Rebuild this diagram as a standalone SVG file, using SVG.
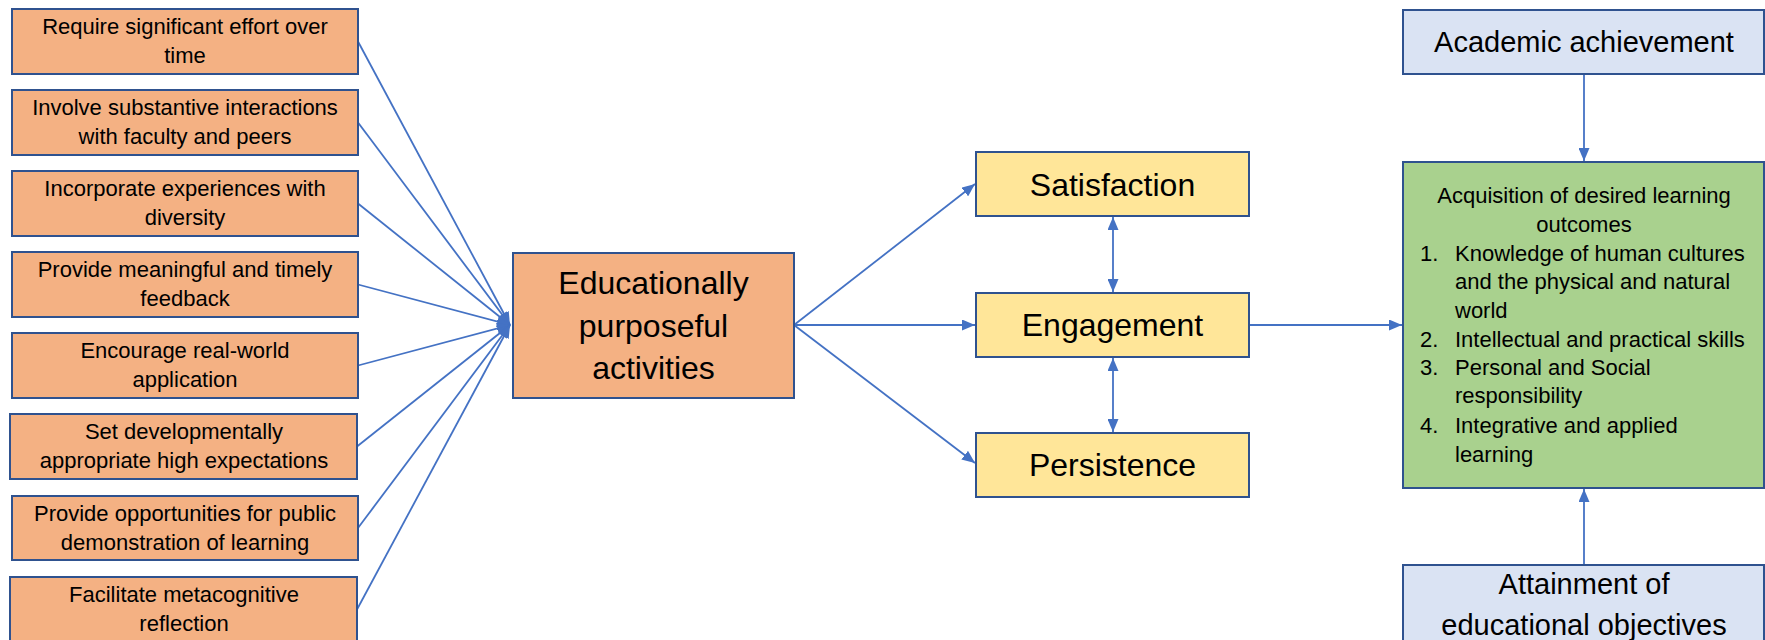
<svg xmlns="http://www.w3.org/2000/svg" width="1765" height="640" viewBox="0 0 1765 640">
  <style>
    .box { stroke: #2F528F; stroke-width: 2; }
    .orange { fill: #F4B183; }
    .yellow { fill: #FFE699; }
    .green { fill: #A9D18E; }
    .blue { fill: #DAE3F3; }
    text { font-family: "Liberation Sans", Arial, sans-serif; fill: #000; }
    .t22 { font-size: 22px; }
    .mid { text-anchor: middle; }
    .t32 { font-size: 32px; }
    .t29 { font-size: 29px; }
    .conn line { stroke: #4472C4; stroke-width: 1.8; fill: none; }
  </style>
  <defs>
    <marker id="ah" markerUnits="userSpaceOnUse" markerWidth="13" markerHeight="11" refX="13" refY="5.5" orient="auto-start-reverse" viewBox="0 0 13 11">
      <path d="M0,0 L13,5.5 L0,11 z" fill="#4472C4"/>
    </marker>
  </defs>
  <rect width="1765" height="640" fill="#fff"/>

  <g class="conn" id="connectors">
    <line x1="358" y1="41.5" x2="510" y2="325" marker-end="url(#ah)"/>
    <line x1="358" y1="122.5" x2="510" y2="325" marker-end="url(#ah)"/>
    <line x1="358" y1="203.5" x2="510" y2="325" marker-end="url(#ah)"/>
    <line x1="358" y1="284.5" x2="510" y2="325" marker-end="url(#ah)"/>
    <line x1="358" y1="365.5" x2="510" y2="325" marker-end="url(#ah)"/>
    <line x1="357" y1="446.5" x2="510" y2="325" marker-end="url(#ah)"/>
    <line x1="358" y1="528" x2="510" y2="325" marker-end="url(#ah)"/>
    <line x1="357" y1="609.5" x2="510" y2="325" marker-end="url(#ah)"/>
    <line x1="794" y1="325" x2="975" y2="184" marker-end="url(#ah)"/>
    <line x1="794" y1="325" x2="975" y2="325" marker-end="url(#ah)"/>
    <line x1="794" y1="325" x2="975" y2="463" marker-end="url(#ah)"/>
    <line x1="1113" y1="217" x2="1113" y2="292" marker-start="url(#ah)" marker-end="url(#ah)"/>
    <line x1="1113" y1="358" x2="1113" y2="432" marker-start="url(#ah)" marker-end="url(#ah)"/>
    <line x1="1250" y1="325" x2="1402" y2="325" marker-end="url(#ah)"/>
    <line x1="1584" y1="74" x2="1584" y2="161" marker-end="url(#ah)"/>
    <line x1="1584" y1="565" x2="1584" y2="489" marker-end="url(#ah)"/>
  </g>

  <g id="n1">
    <rect class="box orange" x="12" y="9" width="346" height="65"/>
    <text class="t22 mid" x="185" y="34">Require significant effort over</text>
    <text class="t22 mid" x="185" y="63">time</text>
  </g>
  <g id="n2">
    <rect class="box orange" x="12" y="90" width="346" height="65"/>
    <text class="t22 mid" x="185" y="115">Involve substantive interactions</text>
    <text class="t22 mid" x="185" y="144">with faculty and peers</text>
  </g>
  <g id="n3">
    <rect class="box orange" x="12" y="171" width="346" height="65"/>
    <text class="t22 mid" x="185" y="196">Incorporate experiences with</text>
    <text class="t22 mid" x="185" y="225">diversity</text>
  </g>
  <g id="n4">
    <rect class="box orange" x="12" y="252" width="346" height="65"/>
    <text class="t22 mid" x="185" y="277">Provide meaningful and timely</text>
    <text class="t22 mid" x="185" y="306">feedback</text>
  </g>
  <g id="n5">
    <rect class="box orange" x="12" y="333" width="346" height="65"/>
    <text class="t22 mid" x="185" y="358">Encourage real-world</text>
    <text class="t22 mid" x="185" y="387">application</text>
  </g>
  <g id="n6">
    <rect class="box orange" x="10" y="414" width="347" height="65"/>
    <text class="t22 mid" x="184" y="439">Set developmentally</text>
    <text class="t22 mid" x="184" y="468">appropriate high expectations</text>
  </g>
  <g id="n7">
    <rect class="box orange" x="12" y="496" width="346" height="64"/>
    <text class="t22 mid" x="185" y="521">Provide opportunities for public</text>
    <text class="t22 mid" x="185" y="550">demonstration of learning</text>
  </g>
  <g id="n8">
    <rect class="box orange" x="10" y="577" width="347" height="70"/>
    <text class="t22 mid" x="184" y="602">Facilitate metacognitive</text>
    <text class="t22 mid" x="184" y="631">reflection</text>
  </g>

  <g id="edu">
    <rect class="box orange" x="513" y="253" width="281" height="145"/>
    <text class="t32 mid" x="653.5" y="294">Educationally</text>
    <text class="t32 mid" x="653.5" y="337">purposeful</text>
    <text class="t32 mid" x="653.5" y="379">activities</text>
  </g>

  <g id="satisfaction">
    <rect class="box yellow" x="976" y="152" width="273" height="64"/>
    <text class="t32 mid" x="1112.5" y="196">Satisfaction</text>
  </g>
  <g id="engagement">
    <rect class="box yellow" x="976" y="293" width="273" height="64"/>
    <text class="t32 mid" x="1112.5" y="336">Engagement</text>
  </g>
  <g id="persistence">
    <rect class="box yellow" x="976" y="433" width="273" height="64"/>
    <text class="t32 mid" x="1112.5" y="476">Persistence</text>
  </g>

  <g id="academic">
    <rect class="box blue" x="1403" y="10" width="361" height="64"/>
    <text class="t29 mid" x="1584" y="52">Academic achievement</text>
  </g>

  <g id="outcomes">
    <rect class="box green" x="1403" y="162" width="361" height="326"/>
    <text class="t22 mid" x="1584" y="203">Acquisition of desired learning</text>
    <text class="t22 mid" x="1584" y="232">outcomes</text>
    <text class="t22" x="1420" y="261">1.</text>
    <text class="t22" x="1455" y="261">Knowledge of human cultures</text>
    <text class="t22" x="1455" y="289">and the physical and natural</text>
    <text class="t22" x="1455" y="318">world</text>
    <text class="t22" x="1420" y="347">2.</text>
    <text class="t22" x="1455" y="347">Intellectual and practical skills</text>
    <text class="t22" x="1420" y="375">3.</text>
    <text class="t22" x="1455" y="375">Personal and Social</text>
    <text class="t22" x="1455" y="403">responsibility</text>
    <text class="t22" x="1420" y="433">4.</text>
    <text class="t22" x="1455" y="433">Integrative and applied</text>
    <text class="t22" x="1455" y="462">learning</text>
  </g>

  <g id="attainment">
    <rect class="box blue" x="1403" y="565" width="361" height="85"/>
    <text class="t29 mid" x="1584" y="594">Attainment of</text>
    <text class="t29 mid" x="1584" y="635">educational objectives</text>
  </g>
</svg>
